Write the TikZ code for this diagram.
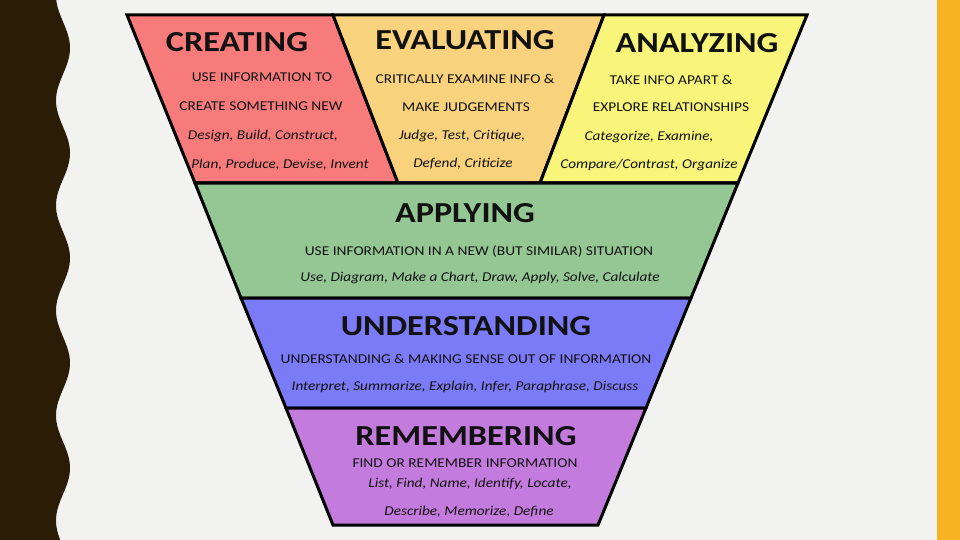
\documentclass[tikz,border=0pt]{standalone}
\usepackage{fontspec}
\setmainfont{Carlito}
\definecolor{bgc}{HTML}{F2F2F0}
\definecolor{darkbar}{HTML}{2B1D05}
\definecolor{orangebar}{HTML}{F8B323}
\definecolor{cre}{HTML}{F77B7B}
\definecolor{eva}{HTML}{F9D27E}
\definecolor{ana}{HTML}{F8F57A}
\definecolor{app}{HTML}{95C795}
\definecolor{und}{HTML}{7B7BF7}
\definecolor{rem}{HTML}{C47BDE}
\definecolor{ink}{HTML}{111111}
\newcommand{\tw}[1]{\scalebox{1.18}[1]{#1}}
\newcommand{\cw}[1]{\scalebox{1.14}[1]{#1}}
\newcommand{\iw}[1]{\scalebox{1.13}[1]{#1}}
\tikzset{
  band/.style={draw=black, line width=3pt, line join=miter},
  ttl/.style={text=ink, inner sep=0pt, font=\fontsize{29}{31}\selectfont\bfseries},
  capt/.style={text=ink, inner sep=0pt, font=\fontsize{13.5}{15}\selectfont},
  ital/.style={text=ink, inner sep=0pt, font=\fontsize{13.5}{15}\selectfont\itshape},
}
\begin{document}
\begin{tikzpicture}[x=1pt,y=-1pt]
\useasboundingbox (0,0) rectangle (960,540);
\fill[bgc] (0,0) rectangle (960,540);
\fill[darkbar] (0,0) -- plot[domain=0:540, samples=220, smooth] ({63+7*sin((\x-48)/105*360+90)}, \x) -- (0,540) -- cycle;
\fill[orangebar] (937,0) rectangle (960,540);
% bands
\filldraw[band, fill=cre] (127,15) -- (333,15) -- (398,183) -- (195,183) -- cycle;
\filldraw[band, fill=eva] (333,15) -- (604,15) -- (540,183) -- (398,183) -- cycle;
\filldraw[band, fill=ana] (604,15) -- (807,15) -- (738,183) -- (540,183) -- cycle;
\filldraw[band, fill=app] (195,183) -- (738,183) -- (691,298) -- (241,298) -- cycle;
\filldraw[band, fill=und] (241,298) -- (691,298) -- (646,408) -- (286,408) -- cycle;
\filldraw[band, fill=rem] (286,408) -- (646,408) -- (598,525) -- (333,525) -- cycle;
% Creating
\node[ttl] (creT) at (237,42) {\tw{CREATING}};
\node[capt] (creA) at (262,77) {\cw{USE INFORMATION TO}};
\node[capt] (creB) at (261,106) {\cw{CREATE SOMETHING NEW}};
\node[ital] (creC) at (263,136) {\iw{Design, Build, Construct,}};
\node[ital] (creD) at (280,165) {\iw{Plan, Produce, Devise, Invent}};
% Evaluating
\node[ttl] (evaT) at (465,40) {\tw{EVALUATING}};
\node[capt] (evaA) at (465,79) {\cw{CRITICALLY EXAMINE INFO \&}};
\node[capt] (evaB) at (466,107) {\cw{MAKE JUDGEMENTS}};
\node[ital] (evaC) at (462,136) {\iw{Judge, Test, Critique,}};
\node[ital] (evaD) at (463,164) {\iw{Defend, Criticize}};
% Analyzing
\node[ttl] (anaT) at (697,43) {\tw{ANALYZING}};
\node[capt] (anaA) at (671,80) {\cw{TAKE INFO APART \&}};
\node[capt] (anaB) at (671,107) {\cw{EXPLORE RELATIONSHIPS}};
\node[ital] (anaC) at (649,137) {\iw{Categorize, Examine,}};
\node[ital] (anaD) at (649,165) {\iw{Compare/Contrast, Organize}};
% Applying
\node[ttl] (appT) at (465,213) {\tw{APPLYING}};
\node[capt] (appA) at (479,251) {\cw{USE INFORMATION IN A NEW (BUT SIMILAR) SITUATION}};
\node[ital] (appB) at (480,278) {\iw{Use, Diagram, Make a Chart, Draw, Apply, Solve, Calculate}};
% Understanding
\node[ttl] (undT) at (466,326) {\tw{UNDERSTANDING}};
\node[capt] (undA) at (466,359) {\cw{UNDERSTANDING \& MAKING SENSE OUT OF INFORMATION}};
\node[ital] (undB) at (465,387) {\iw{Interpret, Summarize, Explain, Infer, Paraphrase, Discuss}};
% Remembering
\node[ttl] (remT) at (466,436) {\tw{REMEMBERING}};
\node[capt] (remA) at (465,463) {\cw{FIND OR REMEMBER INFORMATION}};
\node[ital] (remB) at (470,484) {\iw{List, Find, Name, Identify, Locate,}};
\node[ital] (remC) at (469,512) {\iw{Describe, Memorize, Define}};
\end{tikzpicture}
\end{document}
